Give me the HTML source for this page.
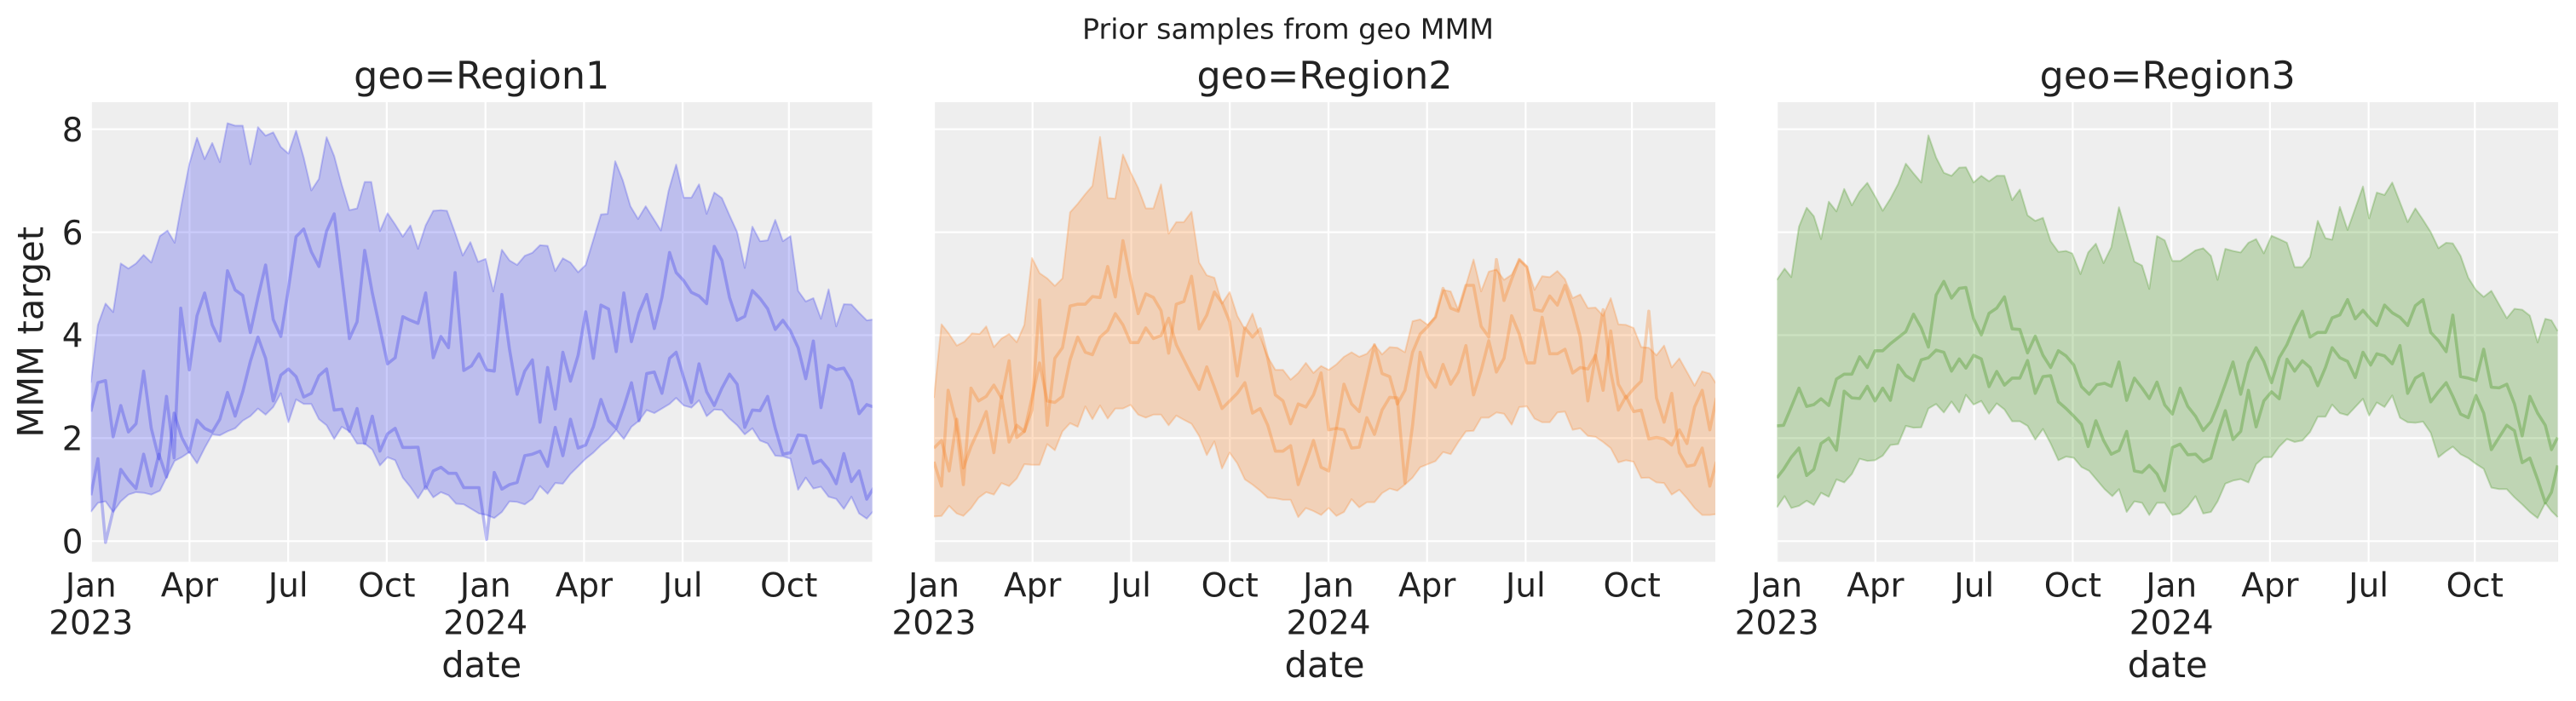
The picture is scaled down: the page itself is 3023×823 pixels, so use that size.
<!DOCTYPE html>
<html><head><meta charset="utf-8"><style>
html,body{margin:0;padding:0;background:#fff;}
svg{display:block;}
text{font-family:"DejaVu Sans","Liberation Sans",sans-serif;fill:#222;}
</style></head><body>
<svg width="3023" height="823" viewBox="0 0 3023 823" xmlns="http://www.w3.org/2000/svg">
<defs>
<clipPath id="c1"><rect x="106.7" y="120" width="917" height="539.5"/></clipPath>
<clipPath id="c2"><rect x="1096" y="120" width="917" height="539.5"/></clipPath>
<clipPath id="c3"><rect x="2085.2" y="120" width="917" height="539.5"/></clipPath>
<mask id="m1" maskUnits="userSpaceOnUse" x="-100" y="-100" width="1900" height="1900">
<rect x="-100" y="-100" width="1900" height="1900" fill="#fff"/>
<polygon fill="#000" points="11,1375 25,1345 40,1340 55,1375 70,1340 85,1318 100,1310 115,1312 130,1318 147,1305 162,1255 176,1207 190,1195 205,1178 220,1215 235,1165 250,1120 265,1123 280,1110 295,1100 310,1075 325,1060 340,1035 355,1055 370,1030 385,985 400,1080 415,1005 430,1020 445,1020 460,1070 475,1090 490,1135 505,1095 520,1110 535,1150 550,1150 565,1170 580,1222 595,1195 610,1205 625,1262 640,1293 655,1330 670,1290 685,1327 700,1310 715,1320 730,1348 745,1350 760,1365 775,1380 790,1385 805,1395 820,1375 835,1340 850,1342 865,1350 880,1332 895,1290 910,1315 925,1280 940,1282 955,1250 970,1225 985,1200 1000,1180 1015,1155 1030,1135 1045,1105 1060,1135 1075,1095 1090,1075 1105,1040 1120,1050 1135,1035 1150,1020 1163,1000 1178,1025 1193,1032 1208,1008 1223,1060 1238,1038 1253,1040 1268,1068 1283,1090 1298,1120 1313,1100 1328,1140 1343,1150 1358,1190 1373,1192 1388,1200 1403,1302 1418,1262 1433,1298 1448,1292 1463,1325 1478,1332 1493,1365 1508,1325 1523,1380 1538,1397 1552,1370 1552,1800 11,1800"/>
</mask>
<mask id="m2" maskUnits="userSpaceOnUse" x="-100" y="-100" width="1900" height="1900">
<rect x="-100" y="-100" width="1900" height="1900" fill="#fff"/>
<polygon fill="#000" points="10,1390 25,1388 40,1355 55,1380 68,1388 83,1363 98,1328 113,1310 128,1318 143,1280 158,1290 173,1265 188,1218 203,1220 218,1220 233,1152 248,1172 263,1110 278,1083 293,1095 308,1028 322,1070 337,1025 352,1068 367,1035 382,1035 397,1023 412,1055 427,1065 442,1055 457,1055 472,1090 487,1058 502,1072 517,1085 532,1125 547,1188 562,1143 577,1232 592,1180 607,1215 622,1268 637,1285 652,1305 667,1328 682,1330 697,1335 712,1335 727,1392 742,1362 757,1372 772,1385 787,1362 802,1388 817,1375 832,1333 847,1360 862,1343 877,1343 892,1313 907,1298 922,1305 937,1285 952,1262 967,1228 982,1218 997,1208 1012,1178 1027,1185 1042,1145 1057,1110 1072,1108 1087,1065 1102,1065 1117,1048 1132,1052 1147,1088 1162,1030 1177,1028 1192,1068 1207,1080 1222,1080 1237,1048 1252,1045 1267,1105 1282,1100 1297,1125 1312,1128 1327,1145 1342,1165 1357,1212 1372,1205 1387,1210 1402,1263 1417,1262 1432,1278 1447,1280 1462,1318 1477,1302 1492,1330 1507,1362 1522,1385 1537,1385 1550,1382 1550,1800 10,1800"/>
</mask>
<mask id="m3" maskUnits="userSpaceOnUse" x="-100" y="-100" width="1900" height="1900">
<rect x="-100" y="-100" width="1900" height="1900" fill="#fff"/>
<polygon fill="#000" points="12,1360 27,1323 40,1362 55,1355 70,1338 84,1352 98,1312 113,1325 128,1268 143,1278 158,1250 173,1200 188,1207 203,1205 218,1190 233,1155 248,1152 263,1092 278,1098 293,1097 307,1035 322,1020 337,1048 352,1012 367,1048 380,990 395,1022 410,1010 425,1052 440,1018 455,1038 470,1077 485,1077 500,1092 515,1137 530,1102 545,1150 560,1205 575,1193 590,1197 605,1227 620,1240 635,1270 650,1300 665,1323 678,1300 693,1375 708,1340 723,1345 737,1385 752,1345 767,1345 782,1385 797,1380 812,1357 827,1323 842,1380 857,1375 870,1340 885,1282 900,1272 915,1267 930,1278 945,1218 960,1195 975,1195 990,1160 1005,1135 1020,1145 1035,1140 1050,1112 1065,1062 1080,1062 1093,1022 1108,1050 1123,1057 1138,1030 1153,1003 1165,1058 1180,1015 1195,1030 1210,992 1225,1065 1240,1080 1255,1082 1270,1078 1285,1115 1300,1195 1315,1175 1328,1160 1343,1185 1358,1198 1373,1217 1388,1233 1403,1295 1418,1300 1433,1300 1448,1327 1463,1350 1478,1375 1493,1395 1508,1345 1520,1372 1532,1392 1532,1800 12,1800"/>
</mask>
</defs>

<!-- Suptitle -->
<text x="1511.5" y="45.7" font-size="33.3" text-anchor="middle">Prior samples from geo MMM</text>

<!-- Subplot titles -->
<text x="565.2" y="104" font-size="44.4" text-anchor="middle">geo=Region1</text>
<text x="1554.5" y="104" font-size="44.4" text-anchor="middle">geo=Region2</text>
<text x="2543.7" y="104" font-size="44.4" text-anchor="middle">geo=Region3</text>

<!-- Y label and ticks -->
<text transform="translate(50.5,389.8) rotate(-90)" font-size="41.7" text-anchor="middle">MMM target</text>
<g font-size="38.9" text-anchor="end">
<text x="97.5" y="649.5">0</text>
<text x="97.5" y="528.6">2</text>
<text x="97.5" y="407.7">4</text>
<text x="97.5" y="286.8">6</text>
<text x="97.5" y="165.9">8</text>
</g>

<!-- ================= PANEL 1 ================= -->
<g clip-path="url(#c1)">
<rect x="106.7" y="120" width="917" height="539.5" fill="#eeeeee"/>
<g stroke="#fff" stroke-width="2.2">
<line x1="106.7" y1="635.3" x2="1023.7" y2="635.3"/><line x1="106.7" y1="514.4" x2="1023.7" y2="514.4"/><line x1="106.7" y1="393.5" x2="1023.7" y2="393.5"/><line x1="106.7" y1="272.6" x2="1023.7" y2="272.6"/><line x1="106.7" y1="151.7" x2="1023.7" y2="151.7"/>
<line x1="106.7" y1="120" x2="106.7" y2="660"/><line x1="222.4" y1="120" x2="222.4" y2="660"/><line x1="338.2" y1="120" x2="338.2" y2="660"/><line x1="453.9" y1="120" x2="453.9" y2="660"/><line x1="569.7" y1="120" x2="569.7" y2="660"/><line x1="685.4" y1="120" x2="685.4" y2="660"/><line x1="801.1" y1="120" x2="801.1" y2="660"/><line x1="925.8" y1="120" x2="925.8" y2="660"/>
</g>
<g transform="translate(100,110) scale(0.59630,0.357143)">
<polygon fill="#2a2eec" fill-opacity="0.25" mask="url(#m1)" points="11,950 25,760 40,690 55,718 70,558 85,575 100,558 115,530 130,555 147,468 162,450 176,490 190,360 205,230 220,145 235,215 250,162 265,225 280,97 295,105 310,105 325,232 340,110 355,138 370,127 385,175 400,197 415,122 430,210 445,318 460,280 475,143 490,205 505,300 520,383 535,377 550,290 563,290 580,452 595,393 610,430 625,470 640,433 655,510 670,433 685,385 700,383 712,385 728,458 743,532 758,488 773,553 788,543 803,650 820,513 835,548 850,563 865,533 880,523 895,498 910,500 925,583 940,541 955,555 970,587 985,563 1000,480 1015,397 1028,395 1043,222 1058,285 1073,370 1088,412 1103,370 1118,410 1133,450 1148,320 1163,233 1178,342 1193,342 1208,298 1223,395 1238,325 1253,343 1268,400 1283,455 1298,573 1313,437 1328,485 1343,482 1358,415 1373,485 1388,468 1403,648 1418,683 1433,672 1448,740 1463,643 1478,765 1493,692 1508,693 1523,720 1538,745 1552,742 1552,1800 11,1800"/>
<g fill="none" stroke="#2a2eec" stroke-linejoin="round" vector-effect="non-scaling-stroke">
<polyline vector-effect="non-scaling-stroke" stroke-opacity="0.25" stroke-width="2" points="11,950 25,760 40,690 55,718 70,558 85,575 100,558 115,530 130,555 147,468 162,450 176,490 190,360 205,230 220,145 235,215 250,162 265,225 280,97 295,105 310,105 325,232 340,110 355,138 370,127 385,175 400,197 415,122 430,210 445,318 460,280 475,143 490,205 505,300 520,383 535,377 550,290 563,290 580,452 595,393 610,430 625,470 640,433 655,510 670,433 685,385 700,383 712,385 728,458 743,532 758,488 773,553 788,543 803,650 820,513 835,548 850,563 865,533 880,523 895,498 910,500 925,583 940,541 955,555 970,587 985,563 1000,480 1015,397 1028,395 1043,222 1058,285 1073,370 1088,412 1103,370 1118,410 1133,450 1148,320 1163,233 1178,342 1193,342 1208,298 1223,395 1238,325 1253,343 1268,400 1283,455 1298,573 1313,437 1328,485 1343,482 1358,415 1373,485 1388,468 1403,648 1418,683 1433,672 1448,740 1463,643 1478,765 1493,692 1508,693 1523,720 1538,745 1552,742"/>
<polyline vector-effect="non-scaling-stroke" stroke-opacity="0.25" stroke-width="2" points="11,1375 25,1345 40,1340 55,1375 70,1340 85,1318 100,1310 115,1312 130,1318 147,1305 162,1255 176,1207 190,1195 205,1178 220,1215 235,1165 250,1120 265,1123 280,1110 295,1100 310,1075 325,1060 340,1035 355,1055 370,1030 385,985 400,1080 415,1005 430,1020 445,1020 460,1070 475,1090 490,1135 505,1095 520,1110 535,1150 550,1150 565,1170 580,1222 595,1195 610,1205 625,1262 640,1293 655,1330 670,1290 685,1327 700,1310 715,1320 730,1348 745,1350 760,1365 775,1380 790,1385 805,1395 820,1375 835,1340 850,1342 865,1350 880,1332 895,1290 910,1315 925,1280 940,1282 955,1250 970,1225 985,1200 1000,1180 1015,1155 1030,1135 1045,1105 1060,1135 1075,1095 1090,1075 1105,1040 1120,1050 1135,1035 1150,1020 1163,1000 1178,1025 1193,1032 1208,1008 1223,1060 1238,1038 1253,1040 1268,1068 1283,1090 1298,1120 1313,1100 1328,1140 1343,1150 1358,1190 1373,1192 1388,1200 1403,1302 1418,1262 1433,1298 1448,1292 1463,1325 1478,1332 1493,1365 1508,1325 1523,1380 1538,1397 1552,1370"/>
<polyline vector-effect="non-scaling-stroke" stroke-opacity="0.3" stroke-width="3.6" points="11,1045 25,950 40,943 55,1128 70,1025 85,1112 100,1085 115,912 130,1100 145,1200 160,995 175,1197 188,705 205,908 220,730 235,655 250,760 265,813 280,582 295,645 310,663 325,785 340,670 355,563 370,742 385,798 400,640 415,470 430,445 445,520 460,568 475,452 490,395 505,600 520,805 535,750 550,515 565,655 580,772 595,888 610,868 625,733 640,745 655,755 670,655 685,868 700,798 715,835 728,588 745,910 760,895 775,855 790,908 805,912 820,660 835,840 850,988 865,912 880,875 895,1080 910,900 925,1037 940,850 955,945 970,860 985,717 1000,870 1015,695 1030,708 1045,848 1060,655 1075,815 1090,720 1105,660 1120,772 1135,670 1150,522 1163,588 1178,615 1193,653 1208,665 1223,690 1238,502 1253,548 1268,670 1283,745 1298,732 1313,647 1328,673 1343,707 1358,775 1373,745 1388,780 1403,835 1418,937 1433,813 1448,1032 1463,893 1478,907 1493,902 1508,945 1523,1052 1538,1022 1552,1030"/>
<polyline vector-effect="non-scaling-stroke" stroke-opacity="0.3" stroke-width="3.6" points="11,1320 25,1200 40,1475 55,1370 70,1235 85,1270 100,1298 115,1185 130,1290 145,1185 160,1260 175,1050 190,1130 205,1178 220,1073 235,1100 250,1112 265,1070 280,982 295,1060 310,980 325,880 340,800 355,870 370,1010 385,925 400,905 415,930 430,997 445,985 460,927 475,905 490,1040 505,1037 520,1110 535,1035 550,1150 565,1060 580,1175 595,1118 610,1100 625,1163 640,1163 655,1162 670,1298 685,1240 700,1228 715,1248 730,1248 745,1295 760,1295 775,1295 790,1465 805,1245 820,1300 835,1285 850,1278 865,1190 880,1185 895,1175 910,1225 925,1097 940,1190 955,1070 970,1165 985,1155 1000,1095 1015,1005 1030,1075 1045,1100 1060,1030 1075,950 1090,1075 1105,920 1120,915 1135,985 1150,870 1163,850 1178,935 1193,1015 1208,888 1223,980 1238,1025 1253,968 1268,922 1283,955 1298,1097 1313,1040 1328,1042 1343,995 1358,1100 1373,1185 1388,1180 1403,1122 1418,1125 1433,1215 1448,1205 1463,1235 1478,1282 1493,1183 1508,1275 1523,1240 1538,1333 1552,1295"/>
</g>
</g>
</g>

<!-- ================= PANEL 2 ================= -->
<g clip-path="url(#c2)">
<rect x="1096" y="120" width="917" height="539.5" fill="#eeeeee"/>
<g stroke="#fff" stroke-width="2.2">
<line x1="1096" y1="635.3" x2="2013" y2="635.3"/><line x1="1096" y1="514.4" x2="2013" y2="514.4"/><line x1="1096" y1="393.5" x2="2013" y2="393.5"/><line x1="1096" y1="272.6" x2="2013" y2="272.6"/><line x1="1096" y1="151.7" x2="2013" y2="151.7"/>
<line x1="1096" y1="120" x2="1096" y2="660"/><line x1="1211.7" y1="120" x2="1211.7" y2="660"/><line x1="1327.5" y1="120" x2="1327.5" y2="660"/><line x1="1443.2" y1="120" x2="1443.2" y2="660"/><line x1="1559" y1="120" x2="1559" y2="660"/><line x1="1674.7" y1="120" x2="1674.7" y2="660"/><line x1="1790.4" y1="120" x2="1790.4" y2="660"/><line x1="1915.1" y1="120" x2="1915.1" y2="660"/>
</g>
<g transform="translate(1090,110) scale(0.59630,0.357143)">
<polygon fill="#fa7c17" fill-opacity="0.25" mask="url(#m2)" points="10,1000 25,758 40,790 55,828 70,815 85,788 100,790 113,765 128,833 143,805 158,790 173,817 188,760 203,540 218,590 233,607 248,632 263,607 278,390 293,362 308,330 322,303 337,142 352,343 367,345 382,200 397,258 412,310 427,377 442,377 457,298 472,460 487,422 502,422 517,388 532,555 547,597 562,605 577,690 592,652 607,730 622,775 637,723 652,800 667,865 682,908 697,908 712,940 727,918 742,885 757,918 772,895 787,908 802,890 817,865 832,850 847,865 862,855 877,825 892,857 907,833 922,835 937,850 952,748 967,742 982,760 997,733 1012,645 1027,650 1042,712 1057,630 1072,545 1087,650 1102,585 1117,578 1132,612 1147,595 1162,545 1177,568 1192,645 1207,600 1222,603 1237,583 1252,610 1267,672 1282,660 1297,705 1312,703 1327,730 1342,672 1357,758 1372,760 1387,770 1402,833 1417,835 1432,860 1447,828 1462,900 1477,870 1492,915 1507,960 1522,913 1537,920 1550,955 1550,1800 10,1800"/>
<g fill="none" stroke="#fa7c17" stroke-linejoin="round">
<polyline vector-effect="non-scaling-stroke" stroke-opacity="0.25" stroke-width="2" points="10,1000 25,758 40,790 55,828 70,815 85,788 100,790 113,765 128,833 143,805 158,790 173,817 188,760 203,540 218,590 233,607 248,632 263,607 278,390 293,362 308,330 322,303 337,142 352,343 367,345 382,200 397,258 412,310 427,377 442,377 457,298 472,460 487,422 502,422 517,388 532,555 547,597 562,605 577,690 592,652 607,730 622,775 637,723 652,800 667,865 682,908 697,908 712,940 727,918 742,885 757,918 772,895 787,908 802,890 817,865 832,850 847,865 862,855 877,825 892,857 907,833 922,835 937,850 952,748 967,742 982,760 997,733 1012,645 1027,650 1042,712 1057,630 1072,545 1087,650 1102,585 1117,578 1132,612 1147,595 1162,545 1177,568 1192,645 1207,600 1222,603 1237,583 1252,610 1267,672 1282,660 1297,705 1312,703 1327,730 1342,672 1357,758 1372,760 1387,770 1402,833 1417,835 1432,860 1447,828 1462,900 1477,870 1492,915 1507,960 1522,913 1537,920 1550,955"/>
<polyline vector-effect="non-scaling-stroke" stroke-opacity="0.25" stroke-width="2" points="10,1390 25,1388 40,1355 55,1380 68,1388 83,1363 98,1328 113,1310 128,1318 143,1280 158,1290 173,1265 188,1218 203,1220 218,1220 233,1152 248,1172 263,1110 278,1083 293,1095 308,1028 322,1070 337,1025 352,1068 367,1035 382,1035 397,1023 412,1055 427,1065 442,1055 457,1055 472,1090 487,1058 502,1072 517,1085 532,1125 547,1188 562,1143 577,1232 592,1180 607,1215 622,1268 637,1285 652,1305 667,1328 682,1330 697,1335 712,1335 727,1392 742,1362 757,1372 772,1385 787,1362 802,1388 817,1375 832,1333 847,1360 862,1343 877,1343 892,1313 907,1298 922,1305 937,1285 952,1262 967,1228 982,1218 997,1208 1012,1178 1027,1185 1042,1145 1057,1110 1072,1108 1087,1065 1102,1065 1117,1048 1132,1052 1147,1088 1162,1030 1177,1028 1192,1068 1207,1080 1222,1080 1237,1048 1252,1045 1267,1105 1282,1100 1297,1125 1312,1128 1327,1145 1342,1165 1357,1212 1372,1205 1387,1210 1402,1263 1417,1262 1432,1278 1447,1280 1462,1318 1477,1302 1492,1330 1507,1362 1522,1385 1537,1385 1550,1382"/>
<polyline vector-effect="non-scaling-stroke" stroke-opacity="0.3" stroke-width="3.6" points="10,1165 25,1140 40,1240 55,1070 68,1230 83,1160 98,1105 113,1045 128,1180 143,995 158,1145 173,1090 188,1110 203,1000 218,885 233,1010 248,1015 263,995 278,875 293,800 308,850 322,858 337,800 352,778 367,723 382,760 397,818 412,818 427,770 442,805 457,795 472,738 487,825 502,875 517,925 532,972 547,898 562,965 577,1035 592,1010 607,985 622,950 637,1050 652,1035 667,1090 682,1175 697,1175 712,1157 727,1285 742,1215 757,1140 772,1228 787,1240 802,1100 817,1105 832,1165 847,1162 862,1065 877,1120 892,1040 907,998 922,1000 937,1280 952,1090 967,850 982,930 997,965 1012,890 1027,955 1042,915 1057,828 1072,990 1087,910 1102,812 1117,915 1132,870 1147,730 1162,790 1177,885 1192,885 1207,735 1222,855 1237,855 1252,840 1267,918 1282,900 1297,905 1312,860 1327,975 1342,780 1357,955 1372,1000 1387,970 1402,945 1417,715 1432,1000 1447,1080 1462,985 1477,1180 1492,1225 1507,1220 1522,1165 1537,1290 1550,1210"/>
<polyline vector-effect="non-scaling-stroke" stroke-opacity="0.3" stroke-width="3.6" points="10,1210 25,1290 38,975 53,1075 68,1285 83,968 98,1010 113,995 128,958 143,1000 158,878 173,1130 188,1110 203,1040 218,678 233,1090 248,870 263,835 278,698 293,692 308,692 322,667 337,670 352,568 367,668 382,483 397,610 412,723 427,658 442,670 457,713 472,853 487,692 502,683 517,600 532,773 547,728 562,652 577,688 592,750 607,928 622,770 637,800 652,773 667,870 682,990 697,1010 712,1085 727,1020 742,1030 757,990 772,918 787,1105 802,1100 817,955 832,1020 847,1045 862,935 877,825 892,920 907,930 922,1020 937,975 952,850 967,790 982,765 997,735 1012,640 1027,705 1042,715 1057,630 1072,630 1087,765 1102,800 1117,545 1132,680 1147,610 1162,545 1177,570 1192,710 1207,715 1222,665 1237,695 1252,630 1267,705 1282,800 1297,1010 1312,860 1327,710 1342,915 1357,1040 1372,995 1387,1045 1402,1040 1417,1135 1432,1130 1447,1135 1462,1155 1477,1105 1492,1150 1507,1030 1522,975 1537,1105 1550,1000"/>
</g>
</g>
</g>

<!-- ================= PANEL 3 ================= -->
<g clip-path="url(#c3)">
<rect x="2085.2" y="120" width="917" height="539.5" fill="#eeeeee"/>
<g stroke="#fff" stroke-width="2.2">
<line x1="2085.2" y1="635.3" x2="3002.2" y2="635.3"/><line x1="2085.2" y1="514.4" x2="3002.2" y2="514.4"/><line x1="2085.2" y1="393.5" x2="3002.2" y2="393.5"/><line x1="2085.2" y1="272.6" x2="3002.2" y2="272.6"/><line x1="2085.2" y1="151.7" x2="3002.2" y2="151.7"/>
<line x1="2085.2" y1="120" x2="2085.2" y2="660"/><line x1="2200.9" y1="120" x2="2200.9" y2="660"/><line x1="2316.7" y1="120" x2="2316.7" y2="660"/><line x1="2432.4" y1="120" x2="2432.4" y2="660"/><line x1="2548.2" y1="120" x2="2548.2" y2="660"/><line x1="2663.9" y1="120" x2="2663.9" y2="660"/><line x1="2779.6" y1="120" x2="2779.6" y2="660"/><line x1="2904.3" y1="120" x2="2904.3" y2="660"/>
</g>
<g transform="translate(2078,110) scale(0.60277,0.357143)">
<polygon fill="#328c06" fill-opacity="0.25" mask="url(#m3)" points="12,612 27,575 40,603 55,437 70,375 84,403 98,478 113,355 128,387 143,313 158,367 173,322 188,293 203,337 218,385 233,345 248,297 263,230 278,262 293,292 307,137 322,210 337,260 352,270 367,243 380,242 395,292 410,270 425,288 440,270 455,270 470,350 485,315 500,400 515,418 530,408 545,485 560,520 575,517 587,525 603,593 618,522 633,493 648,557 663,505 678,373 693,463 708,552 723,565 737,642 752,468 767,482 782,550 797,550 812,533 827,515 842,508 857,533 870,612 885,510 900,517 915,522 930,490 945,478 960,525 975,467 990,478 1005,490 1020,570 1035,570 1050,537 1065,418 1080,475 1093,480 1108,372 1123,448 1138,377 1153,305 1165,410 1180,325 1195,333 1210,292 1225,357 1240,422 1255,377 1270,415 1285,455 1300,508 1315,490 1328,492 1343,533 1358,605 1373,645 1388,668 1403,648 1418,693 1433,738 1448,707 1463,710 1478,730 1493,818 1508,740 1520,745 1532,780 1532,1800 12,1800"/>
<g fill="none" stroke="#328c06" stroke-linejoin="round">
<polyline vector-effect="non-scaling-stroke" stroke-opacity="0.25" stroke-width="2" points="12,612 27,575 40,603 55,437 70,375 84,403 98,478 113,355 128,387 143,313 158,367 173,322 188,293 203,337 218,385 233,345 248,297 263,230 278,262 293,292 307,137 322,210 337,260 352,270 367,243 380,242 395,292 410,270 425,288 440,270 455,270 470,350 485,315 500,400 515,418 530,408 545,485 560,520 575,517 587,525 603,593 618,522 633,493 648,557 663,505 678,373 693,463 708,552 723,565 737,642 752,468 767,482 782,550 797,550 812,533 827,515 842,508 857,533 870,612 885,510 900,517 915,522 930,490 945,478 960,525 975,467 990,478 1005,490 1020,570 1035,570 1050,537 1065,418 1080,475 1093,480 1108,372 1123,448 1138,377 1153,305 1165,410 1180,325 1195,333 1210,292 1225,357 1240,422 1255,377 1270,415 1285,455 1300,508 1315,490 1328,492 1343,533 1358,605 1373,645 1388,668 1403,648 1418,693 1433,738 1448,707 1463,710 1478,730 1493,818 1508,740 1520,745 1532,780"/>
<polyline vector-effect="non-scaling-stroke" stroke-opacity="0.25" stroke-width="2" points="12,1360 27,1323 40,1362 55,1355 70,1338 84,1352 98,1312 113,1325 128,1268 143,1278 158,1250 173,1200 188,1207 203,1205 218,1190 233,1155 248,1152 263,1092 278,1098 293,1097 307,1035 322,1020 337,1048 352,1012 367,1048 380,990 395,1022 410,1010 425,1052 440,1018 455,1038 470,1077 485,1077 500,1092 515,1137 530,1102 545,1150 560,1205 575,1193 590,1197 605,1227 620,1240 635,1270 650,1300 665,1323 678,1300 693,1375 708,1340 723,1345 737,1385 752,1345 767,1345 782,1385 797,1380 812,1357 827,1323 842,1380 857,1375 870,1340 885,1282 900,1272 915,1267 930,1278 945,1218 960,1195 975,1195 990,1160 1005,1135 1020,1145 1035,1140 1050,1112 1065,1062 1080,1062 1093,1022 1108,1050 1123,1057 1138,1030 1153,1003 1165,1058 1180,1015 1195,1030 1210,992 1225,1065 1240,1080 1255,1082 1270,1078 1285,1115 1300,1195 1315,1175 1328,1160 1343,1185 1358,1198 1373,1217 1388,1233 1403,1295 1418,1300 1433,1300 1448,1327 1463,1350 1478,1375 1493,1395 1508,1345 1520,1372 1532,1392"/>
<polyline vector-effect="non-scaling-stroke" stroke-opacity="0.3" stroke-width="3.6" points="12,1092 25,1090 40,1030 55,968 70,1028 84,1022 98,1003 113,1025 128,938 143,922 158,922 173,865 188,900 203,845 218,845 233,822 248,802 263,782 278,725 293,770 307,833 322,662 337,617 352,672 367,640 380,637 395,740 410,793 425,722 440,705 455,668 470,773 485,775 500,852 515,797 530,860 545,900 560,845 575,862 590,892 605,963 620,988 635,957 650,952 663,962 678,882 693,1008 708,935 723,968 737,1002 752,948 767,1023 782,1053 797,968 812,1028 827,1060 842,1107 857,1078 870,1025 885,955 900,882 915,988 930,885 945,835 960,880 975,950 990,868 1005,825 1020,765 1035,715 1050,800 1065,785 1080,785 1093,737 1108,727 1123,677 1138,740 1153,712 1168,742 1180,762 1195,695 1210,720 1225,735 1240,762 1255,697 1270,677 1285,785 1300,812 1315,848 1328,728 1343,930 1358,935 1373,943 1388,840 1403,965 1418,967 1433,955 1448,1020 1463,1125 1478,995 1493,1050 1508,1090 1520,1170 1532,1130"/>
<polyline vector-effect="non-scaling-stroke" stroke-opacity="0.3" stroke-width="3.6" points="12,1263 25,1235 40,1195 55,1165 70,1255 84,1235 98,1150 113,1132 128,1172 143,978 158,1000 173,1002 188,962 203,1010 218,968 233,1008 248,892 263,927 278,943 293,875 307,868 322,843 337,850 352,912 367,872 380,902 395,860 410,872 425,963 440,913 455,958 470,935 485,935 500,877 515,985 530,930 545,927 560,1013 575,1035 590,1060 605,1087 618,1160 633,1075 648,1140 663,1185 678,1173 693,1110 708,1240 723,1245 737,1222 752,1250 767,1305 782,1163 797,1152 812,1187 827,1185 842,1210 857,1198 870,1120 885,1042 900,1137 915,1110 930,975 945,1095 960,1010 975,980 990,1003 1005,873 1020,912 1035,878 1050,900 1065,960 1080,900 1093,835 1108,868 1123,880 1138,933 1153,850 1168,892 1180,855 1195,862 1210,888 1225,828 1240,985 1255,935 1270,920 1285,1013 1300,980 1315,950 1328,995 1343,1053 1358,1065 1373,992 1388,1050 1403,1170 1418,1130 1433,1090 1448,1108 1463,1213 1478,1198 1493,1268 1508,1345 1520,1310 1532,1222"/>
</g>
</g>
</g>

<!-- X tick labels -->
<g font-size="38.9" text-anchor="middle">
<text x="106.7" y="700.7">Jan</text><text x="106.7" y="744.3">2023</text>
<text x="222.4" y="700.7">Apr</text>
<text x="338.2" y="700.7">Jul</text>
<text x="453.9" y="700.7">Oct</text>
<text x="569.7" y="700.7">Jan</text><text x="569.7" y="744.3">2024</text>
<text x="685.4" y="700.7">Apr</text>
<text x="801.1" y="700.7">Jul</text>
<text x="925.8" y="700.7">Oct</text>

<text x="1096" y="700.7">Jan</text><text x="1096" y="744.3">2023</text>
<text x="1211.7" y="700.7">Apr</text>
<text x="1327.5" y="700.7">Jul</text>
<text x="1443.2" y="700.7">Oct</text>
<text x="1559" y="700.7">Jan</text><text x="1559" y="744.3">2024</text>
<text x="1674.7" y="700.7">Apr</text>
<text x="1790.4" y="700.7">Jul</text>
<text x="1915.1" y="700.7">Oct</text>

<text x="2085.2" y="700.7">Jan</text><text x="2085.2" y="744.3">2023</text>
<text x="2200.9" y="700.7">Apr</text>
<text x="2316.7" y="700.7">Jul</text>
<text x="2432.4" y="700.7">Oct</text>
<text x="2548.2" y="700.7">Jan</text><text x="2548.2" y="744.3">2024</text>
<text x="2663.9" y="700.7">Apr</text>
<text x="2779.6" y="700.7">Jul</text>
<text x="2904.3" y="700.7">Oct</text>
</g>

<!-- X axis labels -->
<g font-size="41.7" text-anchor="middle">
<text x="565.2" y="795">date</text>
<text x="1554.5" y="795">date</text>
<text x="2543.7" y="795">date</text>
</g>
</svg>
</body></html>
